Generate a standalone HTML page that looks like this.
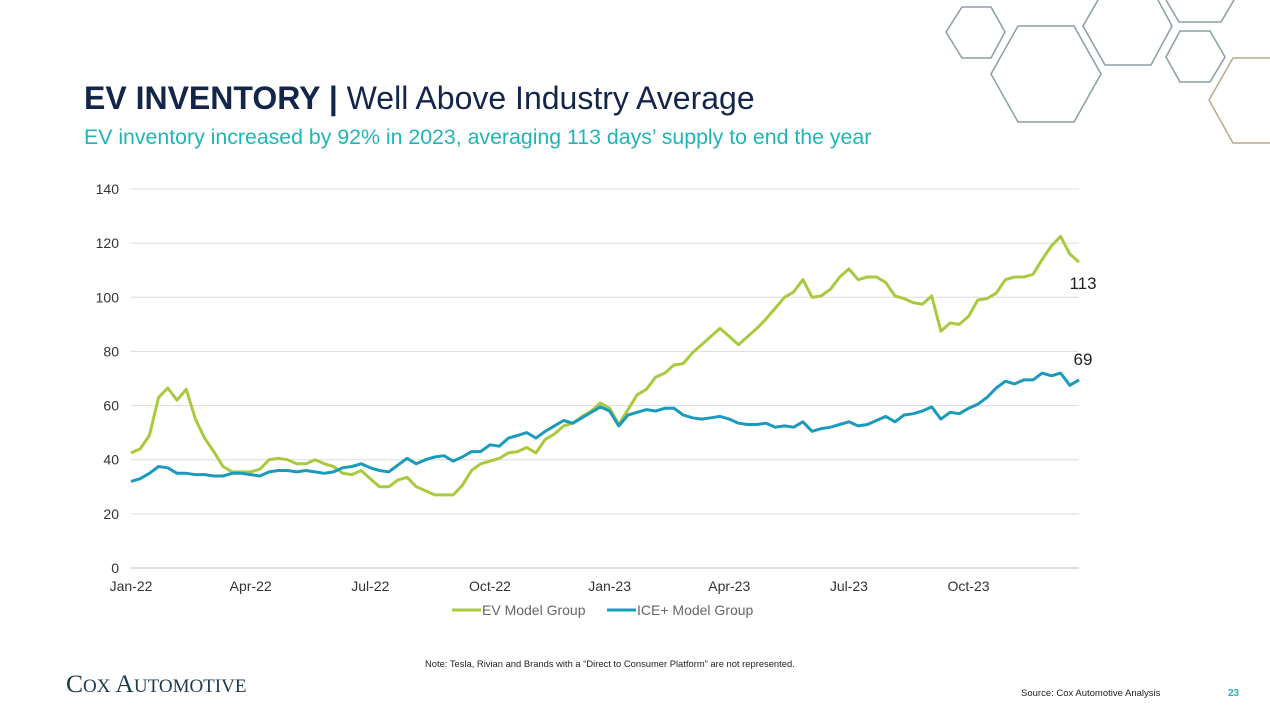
<!DOCTYPE html>
<html><head><meta charset="utf-8"><style>
body{margin:0;background:#fff;}
svg{display:block;font-family:"Liberation Sans",Arial,sans-serif;}
</style></head><body>
<svg id="s" width="1270" height="716" viewBox="0 0 1270 716">
<g fill="none" stroke="#8a9ea3" stroke-width="1.5">
<polygon points="962,7 991,7 1005,32 991,58 962,58 946,32"/>
<polygon points="1018,26 1074,26 1101,74 1074,122 1018,122 991,74"/>
<polyline points="1098,0 1083,26 1105,65 1151,65 1172,26 1158,0"/>
<polyline points="1166,0 1179,22 1221,22 1234,0"/>
<polygon points="1180,31 1210,31 1225,57 1210,82 1180,82 1166,57"/>
<polyline points="1270,58 1233,58 1209,100 1233,143 1270,143" stroke="#b9a88a"/>
</g>
<text x="84" y="109" font-size="32" fill="#14254a"><tspan font-weight="bold">EV INVENTORY | </tspan>Well Above Industry Average</text>
<text x="84" y="144" font-size="21.3" fill="#1fb5b8">EV inventory increased by 92% in 2023, averaging 113 days’ supply to end the year</text>
<g id="chart"></g>
<g>
<g><line x1="452" y1="610" x2="481" y2="610" stroke="#a9c93e" stroke-width="3"/><text x="482" y="615" font-size="14" fill="#666">EV Model Group</text></g>
<g><line x1="607" y1="610" x2="636" y2="610" stroke="#1b9abb" stroke-width="3"/><text x="637" y="615" font-size="14" fill="#666">ICE+ Model Group</text></g>
</g>
<text x="425" y="667" font-size="9.4" fill="#222">Note: Tesla, Rivian and Brands with a “Direct to Consumer Platform” are not represented.</text>
<text x="66" y="692" font-size="25.5" fill="#1d3a4c" font-family="Liberation Serif,serif">C<tspan font-size="19">OX</tspan> A<tspan font-size="19">UTOMOTIVE</tspan></text>
<text x="1021" y="696" font-size="9.5" fill="#222">Source: Cox Automotive Analysis</text>
<text x="1228" y="696" font-size="10" fill="#1fb5b8" font-weight="bold">23</text>
</svg>
<script>
const xLabels=["Jan-22","Apr-22","Jul-22","Oct-22","Jan-23","Apr-23","Jul-23","Oct-23"];
const xLabelWeeks=[0,13,26,39,52,65,78,91];
const yTicks=[0,20,40,60,80,100,120,140];
const evValues=[42.5,44,49,63,66.5,62,66,55,48,43,37.5,35.5,35.5,35.5,36.5,40,40.5,40,38.5,38.5,40,38.5,37.5,35,34.5,36,33,30,30,32.5,33.5,30,28.5,27,27,27,30.5,36,38.5,39.5,40.5,42.5,43,44.5,42.5,47.5,49.5,52.5,53.5,56,58,61,59,53,58.5,64,66,70.5,72,75,75.5,79.5,82.5,85.5,88.5,85.5,82.5,85.5,88.5,92,96,100,102,106.5,100,100.5,103,107.5,110.5,106.5,107.5,107.5,105.5,100.5,99.5,98,97.5,100.5,87.5,90.5,90,93,99,99.5,101.5,106.5,107.5,107.5,108.5,114,119,122.5,116,113];
const iceValues=[32,33,35,37.5,37,35,35,34.5,34.5,34,34,35,35,34.5,34,35.5,36,36,35.5,36,35.5,35,35.5,37,37.5,38.5,37,36,35.5,38,40.5,38.5,40,41,41.5,39.5,41,43,43,45.5,45,48,49,50,48,50.5,52.5,54.5,53.5,55.5,57.5,59.5,58,52.5,56.5,57.5,58.5,58,59,59,56.5,55.5,55,55.5,56,55,53.5,53,53,53.5,52,52.5,52,54,50.5,51.5,52,53,54,52.5,53,54.5,56,54,56.5,57,58,59.5,55,57.5,57,59,60.5,63,66.5,69,68,69.5,69.5,72,71,72,67.5,69.5];
const endLabels=["113","69"];
const NS="http://www.w3.org/2000/svg";
const g=document.getElementById('chart');
const X0=131,X1=1079,Y0=568,Y1=189;
const n=evValues.length;
function xs(i){return X0+(X1-X0)*i/(n-1);}
function ys(v){return Y0-(Y0-Y1)*v/140;}
function mk(t,a){const e=document.createElementNS(NS,t);for(const k in a)e.setAttribute(k,a[k]);g.appendChild(e);return e;}
yTicks.forEach(v=>{
 const l=mk('line',{x1:X0,x2:X1,y1:ys(v),y2:ys(v),stroke:v===0?'#bfbfbf':'#dcdcdc','stroke-width':1});
 
 
 const t=mk('text',{x:119,y:ys(v)+5,'text-anchor':'end','font-size':14,fill:'#333'});
 t.textContent=v;
 
 
});
xLabels.forEach((lab,k)=>{
 const t=mk('text',{x:xs(xLabelWeeks[k]),y:591,'text-anchor':'middle','font-size':14,fill:'#333'});
 t.textContent=lab;
 
 
});
function series(vals,color,name){
 const p=mk('polyline',{points:vals.map((v,i)=>xs(i).toFixed(1)+','+ys(v).toFixed(1)).join(' '),fill:'none',stroke:color,'stroke-width':3,'stroke-linejoin':'round'});
 
 
}
series(evValues,'#a9c93e','ev-line');
series(iceValues,'#1b9abb','ice-line');
const t1=mk('text',{x:1083,y:ys(evValues[n-1])+27,'text-anchor':'middle','font-size':17,fill:'#222'});
t1.textContent=endLabels[0];


const t2=mk('text',{x:1083,y:ys(iceValues[n-1])-15,'text-anchor':'middle','font-size':17,fill:'#222'});
t2.textContent=endLabels[1];


</script>
</body></html>
